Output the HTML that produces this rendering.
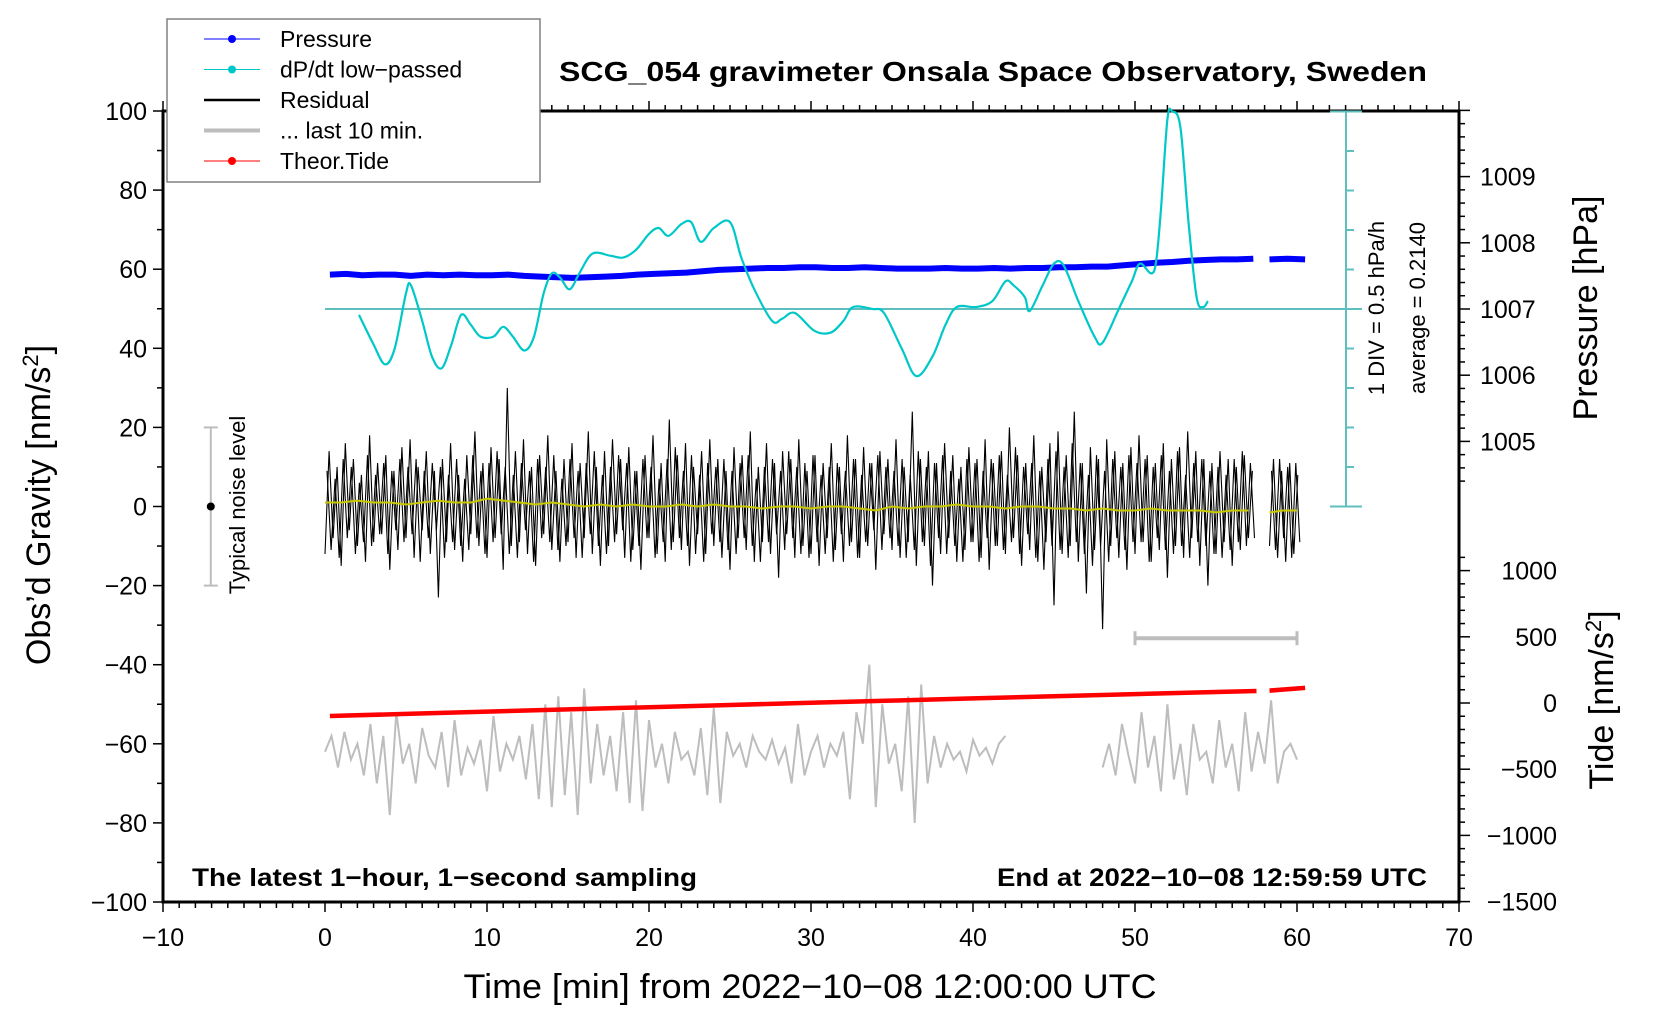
<!DOCTYPE html>
<html><head><meta charset="utf-8"><title>SCG_054 gravimeter</title>
<style>
html,body{margin:0;padding:0;background:#fff;}
svg{display:block;font-family:"Liberation Sans",sans-serif;}
</style></head>
<body>
<svg id="chart" xmlns="http://www.w3.org/2000/svg" width="1660" height="1020" viewBox="0 0 1660 1020">
<rect x="0" y="0" width="1660" height="1020" fill="#fff"/>
<g id="axes"></g>
<g id="series"></g>
<text x="993" y="81" text-anchor="middle" font-size="28" font-weight="bold" textLength="868" lengthAdjust="spacingAndGlyphs">SCG_054 gravimeter Onsala Space Observatory, Sweden</text>
<text x="192" y="886" font-size="25" font-weight="bold" textLength="505" lengthAdjust="spacingAndGlyphs">The latest 1−hour, 1−second sampling</text>
<text x="1427" y="886" text-anchor="end" font-size="25" font-weight="bold" textLength="430" lengthAdjust="spacingAndGlyphs">End at 2022−10−08 12:59:59 UTC</text>
<text x="810" y="998" text-anchor="middle" font-size="34" textLength="693" lengthAdjust="spacingAndGlyphs">Time [min] from 2022−10−08 12:00:00 UTC</text>
<text transform="translate(50,505) rotate(-90)" text-anchor="middle" font-size="34">Obs’d Gravity [nm/s<tspan font-size="22" dy="-12">2</tspan><tspan dy="12">]</tspan></text>
<text transform="translate(1597,308) rotate(-90)" text-anchor="middle" font-size="34">Pressure [hPa]</text>
<text transform="translate(1613,700) rotate(-90)" text-anchor="middle" font-size="34">Tide [nm/s<tspan font-size="22" dy="-12">2</tspan><tspan dy="12">]</tspan></text>
<text transform="translate(1384,308) rotate(-90)" text-anchor="middle" font-size="22">1 DIV = 0.5 hPa/h</text>
<text transform="translate(1425,308) rotate(-90)" text-anchor="middle" font-size="22">average = 0.2140</text>
<text transform="translate(245,505) rotate(-90)" text-anchor="middle" font-size="22">Typical noise level</text>
<g id="legend"></g>
</svg>
<script>
// ---- data ----
const dpTimes = [2.1,3,3.7,4.3,5,5.3,6,6.6,7.2,7.8,8.4,9,9.6,10.4,11,11.6,12.3,12.9,13.5,14,14.5,15.1,15.7,16.5,17.6,18.4,19.2,20,20.6,21.2,22,22.6,23.2,24,25,25.7,26.5,27.6,28.2,29,30.2,31.2,32,32.6,33.8,34.5,35.6,36.5,37.5,38.3,39,40.2,41.2,42,42.5,43.2,43.5,44.3,45,45.6,46.5,47.5,48,49,49.8,50.3,51,51.3,51.6,52,52.3,52.8,53.3,53.8,54.2,54.5];
const dpValues = [0.139,-0.236,-0.486,-0.286,0.414,0.514,0.064,-0.386,-0.536,-0.236,0.139,0.014,-0.136,-0.136,-0.011,-0.136,-0.311,-0.136,0.414,0.664,0.614,0.464,0.664,0.914,0.889,0.864,0.964,1.164,1.239,1.139,1.289,1.314,1.064,1.239,1.314,0.864,0.464,0.064,0.089,0.164,-0.061,-0.086,0.064,0.239,0.214,0.164,-0.286,-0.636,-0.386,0.014,0.239,0.239,0.314,0.564,0.514,0.364,0.189,0.514,0.789,0.764,0.314,-0.136,-0.211,0.214,0.564,0.789,0.664,0.814,1.464,2.614,2.714,2.514,1.314,0.364,0.239,0.314];
const dpAverage = 0.214;
const pressureStart1 = 0.3;
const pressure1 = [1007.52,1007.53,1007.51,1007.52,1007.52,1007.50,1007.52,1007.51,1007.52,1007.51,1007.51,1007.52,1007.50,1007.49,1007.48,1007.47,1007.48,1007.49,1007.50,1007.52,1007.53,1007.54,1007.55,1007.57,1007.59,1007.60,1007.61,1007.62,1007.62,1007.63,1007.63,1007.62,1007.62,1007.63,1007.62,1007.61,1007.61,1007.61,1007.62,1007.61,1007.61,1007.62,1007.61,1007.62,1007.62,1007.63,1007.63,1007.64,1007.64,1007.66,1007.68,1007.70,1007.71,1007.73,1007.74,1007.75,1007.75,1007.76];
const pressureStart2 = 58.3;
const pressure2 = [1007.75,1007.76,1007.75];
const residualStep = 0.25;
const residual1 = [-12,14,-8,10,-15,16,-6,12,-10,8,-14,18,-9,11,-7,13,-16,9,-11,15,
-8,17,-13,10,-6,14,-12,9,-23,12,-9,16,-11,8,-14,13,-7,19,-10,11,
-13,15,-8,12,-16,30,-10,14,-9,17,-12,10,-15,13,-7,18,-11,9,-14,12,
-9,16,-13,11,-8,19,-12,10,-15,14,-10,17,-7,12,-13,15,-11,9,-16,13,
-8,18,-12,11,-14,22,-9,13,-11,16,-15,10,-7,14,-12,17,-10,12,-13,9,
-16,15,-8,13,-11,19,-14,10,-9,16,-12,11,-18,14,-7,12,-13,17,-10,9,
-12,13,-15,11,-8,16,-11,10,-14,18,-9,12,-13,15,-10,11,-16,14,-7,12,
-11,17,-13,10,-9,24,-15,12,-10,14,-20,11,-12,16,-8,13,-14,10,-11,15,
-9,12,-13,17,-16,11,-10,14,-12,20,-8,13,-15,11,-11,18,-14,10,-9,16,
-25,19,-12,13,-10,24,-14,11,-22,15,-11,12,-31,17,-10,14,-13,11,-16,15,
-12,18,-9,13,-14,11,-11,16,-18,12,-10,15,-13,19,-8,14,-15,12,-20,11,
-12,14,-9,12,-15,10,-11,13,-8,9];
const residual1b = [9,-11,7,-13,12,-8,10,-12,6,-9,13,-10,8,-7,11,-12,9,-6,12,-9,
10,-7,12,-14,9,-8,11,-6,10,-13,8,-9,12,-10,7,-11,13,-8,9,-12,
11,-9,14,-7,10,-12,8,-13,11,-6,9,-14,12,-8,10,-9,13,-11,7,-10,
12,-8,9,-13,11,-7,14,-10,8,-12,10,-9,13,-6,11,-14,9,-10,12,-8,
10,-13,7,-9,12,-11,15,-8,9,-10,13,-12,8,-14,11,-7,10,-9,12,-11,
9,-12,11,-8,13,-10,7,-14,10,-9,12,-7,9,-11,14,-8,10,-12,11,-13,
13,-9,8,-12,10,-14,11,-7,9,-10,12,-13,8,-9,11,-6,13,-11,10,-8,
9,-10,12,-13,8,-11,14,-9,10,-15,11,-8,13,-12,9,-10,7,-14,12,-9,
11,-14,9,-8,12,-10,13,-11,8,-9,15,-12,10,-7,11,-13,9,-16,12,-10,
14,-11,10,-13,16,-9,11,-12,8,-15,13,-10,9,-14,12,-8,10,-11,13,-9,
11,-9,12,-14,10,-8,13,-11,9,-12,14,-10,8,-13,11,-9,12,-10,9,-12,
10,-13,8,-11,12,-9,14,-10,11,-8];
const residualStart2 = 58.3;
const residual2 = [-10,12,-13,9,-14,11,-12,8];
const residual2b = [9,-11,12,-8,10,-13,11,-9];
const smooth1 = [1,1,1.5,1,1,0.5,1,1.5,1,1,2,1.5,1,0.5,1,0.5,0,0.5,0,0.5,0,0,0.5,0,0.5,0,0,-0.5,0,0,-0.5,0,0,-0.5,-1,0,-0.5,0,0,0.5,0,0,-0.5,0,0,-0.5,-0.5,-1,-0.5,-1,-1,-0.5,-1,-1,-1,-1.5,-1,-1];
const smooth2 = [-1.5,-1,-1];
const grayStep = 0.4;
const gray1 = [-62,-58,-66,-57,-64,-60,-68,-55,-70,-58,-78,-52,-65,-60,-70,-56,-63,-66,-57,-71,-54,-68,-61,-65,-59,-72,-53,-67,-60,-64,-58,-69,-55,-74,-50,-76,-48,-73,-52,-78,-46,-70,-55,-68,-58,-72,-52,-75,-49,-77,-54,-66,-60,-70,-57,-64,-62,-68,-56,-73,-51,-75,-57,-63,-60,-66,-58,-62,-64,-59,-65,-61,-70,-55,-68,-62,-58,-66,-60,-63,-57,-74,-52,-60,-40,-76,-50,-65,-60,-72,-48,-80,-45,-70,-58,-66,-60,-64,-62,-67,-59,-63,-61,-65,-60,-58];
const grayStart2 = 48;
const gray2 = [-66,-60,-68,-55,-63,-70,-52,-66,-58,-72,-50,-69,-60,-73,-55,-64,-62,-70,-54,-66,-60,-72,-52,-67,-57,-65,-49,-70,-62,-60,-64];
const tideTimes1 = [0.3,5,10,15,20,25,30,35,40,45,50,55,57.5];
const tide1 = [-98,-82,-65,-48,-32,-15,2,18,35,51,67,83,91];
const tideTimes2 = [58.3,60.5];
const tide2 = [94,114];
const xTicks = [-10,0,10,20,30,40,50,60,70];
const yTicks = [100,80,60,40,20,0,-20,-40,-60,-80,-100];
const pTicks = [1009,1008,1007,1006,1005];
const tideTicks = [1000,500,0,-500,-1000,-1500];

// ---- scales ----
const X = t => 325 + t*16.2;
const Yg = g => 111 + (100-g)*3.955;
const Yp = p => 309 - (p-1007)*66.2;
const Yt = v => 703 - v*0.1324;
const Ydp = v => 309 - (v-dpAverage)*79;
const NS='http://www.w3.org/2000/svg';
function mk(tag, attrs, parent){const e=document.createElementNS(NS,tag);for(const k in attrs)e.setAttribute(k,attrs[k]);parent.appendChild(e);return e;}
const ax=document.getElementById('axes'), se=document.getElementById('series'), lg=document.getElementById('legend');
const L=163,R=1459,T=111,B=902;

let fr=mk('rect',{x:L,y:T,width:R-L,height:B-T,fill:'none',stroke:'#000','stroke-width':3},ax);


for(let t=-10;t<=70;t++){
  const maj=t%10===0;
  let a=mk('line',{x1:X(t),x2:X(t),y1:B,y2:B+(maj?10:6),stroke:'#000','stroke-width':1.5},ax);
  
  
  let b=mk('line',{x1:X(t),x2:X(t),y1:T,y2:T-(maj?10:6),stroke:'#000','stroke-width':1.5},ax);
  
  
}
xTicks.forEach(t=>{
  let e=mk('text',{x:X(t),y:B+44,'text-anchor':'middle','font-size':25},ax);
  e.textContent=String(t).replace('-','−');
  
  
});
for(let g=-100;g<=100;g+=10){
  const maj=g%20===0;
  let a=mk('line',{x1:L,x2:L-(maj?10:6),y1:Yg(g),y2:Yg(g),stroke:'#000','stroke-width':1.5},ax);
  
  
}
yTicks.forEach(g=>{
  let e=mk('text',{x:L-16,y:Yg(g)+9,'text-anchor':'end','font-size':25},ax);
  e.textContent=String(g).replace('-','−');
  
  
});
for(let i=0;i<=30;i++){
  const p=1004.4+i*0.2; const y=Yp(p);
  if(y<T-1||y>505)continue;
  const maj=Math.abs(p-Math.round(p))<0.01;
  let a=mk('line',{x1:R,x2:R+(maj?11:6),y1:y,y2:y,stroke:'#000','stroke-width':1.5},ax);
  
  
}
pTicks.forEach(p=>{
  let e=mk('text',{x:R+21,y:Yp(p)+9,'font-size':25},ax);
  e.textContent=p;
  
  
});
for(let v=-1500;v<=1100;v+=100){
  const y=Yt(v); if(y<540)continue;
  const maj=v%500===0;
  let a=mk('line',{x1:R,x2:R+(maj?11:6),y1:y,y2:y,stroke:'#000','stroke-width':1.5},ax);
  
  
}
tideTicks.forEach(v=>{
  let e=mk('text',{x:1557,y:Yt(v)+9,'text-anchor':'end','font-size':25},ax);
  e.textContent=String(v).replace('-','−');
  
  
});

const barX=1346, cy='#5fbfbf';
let bar=mk('line',{x1:barX,x2:barX,y1:T,y2:Ydp(dpAverage-2.5),stroke:cy,'stroke-width':2},se);


for(let k=-5;k<=5;k++){
  const y=Ydp(dpAverage+k*0.5); const end=Math.abs(k)===5;
  let a=mk('line',{x1:end?barX-16:barX,x2:barX+(end?16:8),y1:y,y2:y,stroke:cy,'stroke-width':2},se);
  
  
}
let base=mk('line',{x1:X(0),x2:barX+16,y1:Ydp(dpAverage),y2:Ydp(dpAverage),stroke:cy,'stroke-width':2},se);



function poly(ts,vs,fx,fy,attrs,name){
  const pts=ts.map((t,i)=>fx(t).toFixed(1)+','+fy(vs[i]).toFixed(1)).join(' ');
  const e=mk('polyline',Object.assign({points:pts,fill:'none'},attrs),se);
  
  
  return e;
}
const seq=(start,step,n)=>Array.from({length:n},(_,i)=>start+i*step);
poly(seq(0,grayStep,gray1.length),gray1,X,Yg,{stroke:'#bdbdbd','stroke-width':2},'last-10-min-line');
poly(seq(grayStart2,grayStep,gray2.length),gray2,X,Yg,{stroke:'#bdbdbd','stroke-width':2},'last-10-min-line');
poly(tideTimes1,tide1,X,Yt,{stroke:'#ff0000','stroke-width':4.5},'theor-tide-line');
poly(tideTimes2,tide2,X,Yt,{stroke:'#ff0000','stroke-width':4.5},'theor-tide-line');
poly(seq(0,residualStep,residual1.length),residual1,X,Yg,{stroke:'#000','stroke-width':1.1},'residual-line');
poly(seq(residualStep/2,residualStep,residual1b.length),residual1b,X,Yg,{stroke:'#000','stroke-width':1.1},'residual-line');
poly(seq(residualStart2,residualStep,residual2.length),residual2,X,Yg,{stroke:'#000','stroke-width':1.1},'residual-line');
poly(seq(residualStart2+residualStep/2,residualStep,residual2b.length),residual2b,X,Yg,{stroke:'#000','stroke-width':1.1},'residual-line');
poly(seq(0,1,smooth1.length),smooth1,X,Yg,{stroke:'#c8c800','stroke-width':2},'residual-smoothed-line');
poly(seq(residualStart2,0.85,smooth2.length),smooth2,X,Yg,{stroke:'#c8c800','stroke-width':2},'residual-smoothed-line');
poly(seq(pressureStart1,1,pressure1.length),pressure1,X,Yp,{stroke:'#0000ff','stroke-width':6,'stroke-linejoin':'round'},'pressure-line');
poly(seq(pressureStart2,1.1,pressure2.length),pressure2,X,Yp,{stroke:'#0000ff','stroke-width':6,'stroke-linejoin':'round'},'pressure-line');
(function(){
  const P=dpTimes.map((t,i)=>[X(t),Ydp(dpValues[i])]);
  let d='M'+P[0][0].toFixed(1)+','+P[0][1].toFixed(1);
  for(let i=0;i<P.length-1;i++){
    const p0=P[Math.max(0,i-1)],p1=P[i],p2=P[i+1],p3=P[Math.min(P.length-1,i+2)];
    const c1=[p1[0]+(p2[0]-p0[0])/6,p1[1]+(p2[1]-p0[1])/6];
    const c2=[p2[0]-(p3[0]-p1[0])/6,p2[1]-(p3[1]-p1[1])/6];
    d+=' C'+c1.map(v=>v.toFixed(1)).join(',')+' '+c2.map(v=>v.toFixed(1)).join(',')+' '+p2.map(v=>v.toFixed(1)).join(',');
  }
  const e=mk('path',{d:d,fill:'none',stroke:'#00c8c8','stroke-width':2.2},se);
  
  
})();
(function(){
  const y=Yg(-33.3);
  let a=mk('line',{x1:X(50),x2:X(60),y1:y,y2:y,stroke:'#bdbdbd','stroke-width':4},se);
  
  
  [50,60].forEach(t=>{let c=mk('line',{x1:X(t),x2:X(t),y1:y-7,y2:y+7,stroke:'#bdbdbd','stroke-width':3},se);
  
  });
})();
(function(){
  const x=X(-7.05);
  let a=mk('line',{x1:x,x2:x,y1:Yg(20),y2:Yg(-20),stroke:'#bdbdbd','stroke-width':2},se);
  
  
  [20,-20].forEach(g=>{let c=mk('line',{x1:x-7,x2:x+7,y1:Yg(g),y2:Yg(g),stroke:'#bdbdbd','stroke-width':2},se);
  
  });
  let d=mk('circle',{cx:x,cy:Yg(0),r:4,fill:'#000'},se);
  
  
})();

(function(){
  let box=mk('rect',{x:167,y:19,width:373,height:163,fill:'#fff',stroke:'#808080','stroke-width':1.5},lg);
  
  
  const items=[['Pressure','#0000ff',1,true],['dP/dt low−passed','#00c8c8',1,true],['Residual','#000',2.5,false],['... last 10 min.','#bdbdbd',4,false],['Theor.Tide','#ff0000',1,true]];
  items.forEach((it,i)=>{
    const y=39+i*30.5;
    const g=mk('g',{},lg);
    
    
    mk('line',{x1:204,x2:260,y1:y,y2:y,stroke:it[1],'stroke-width':it[2]},g);
    if(it[3])mk('circle',{cx:232,cy:y,r:4,fill:it[1]},g);
    const t=mk('text',{x:280,y:y+8,'font-size':23},g);
    t.textContent=it[0];
  });
})();
</script>
</body></html>
